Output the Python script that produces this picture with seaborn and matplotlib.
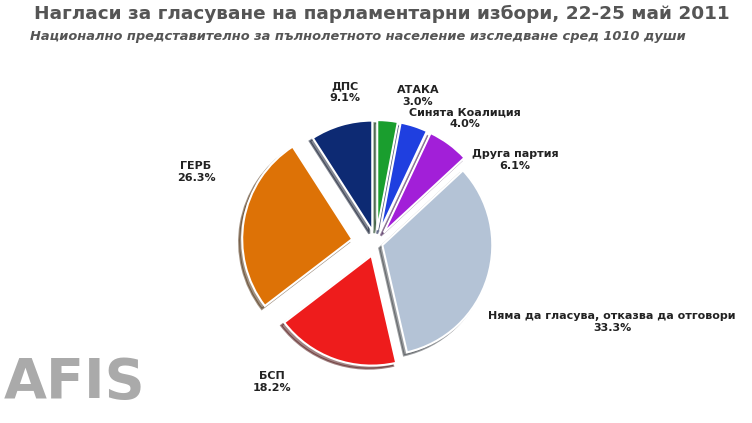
import matplotlib
matplotlib.use("Agg")
import matplotlib.pyplot as plt
import seaborn as sns

sns.set_theme(style="white")
plt.rcParams['font.family'] = ['DejaVu Sans']

parties = ["АТАКА", "Синята Коалиция", "Друга партия", "Няма да гласува, отказва да отговори", "БСП", "ГЕРБ", "ДПС"]
values = [3.0, 4.0, 6.1, 33.3, 18.2, 26.3, 9.1]
colors = ["#1a9e2e", "#1f3fe0", "#a21fd8", "#b4c3d6", "#ee1c1c", "#dd7206", "#0d2a73"]
explode = [0.12, 0.12, 0.12, 0.06, 0.12, 0.22, 0.12]

fig = plt.figure(figsize=(7.52, 4.23), dpi=100)
ax = fig.add_axes([0.2, 0.1, 0.6, 0.65])
wedges, texts = ax.pie(values, colors=colors, explode=explode, startangle=90, counterclock=False,
                       labels=[f"{p}\n{v:.1f}%" for p, v in zip(parties, values)],
                       labeldistance=1.2, shadow=True,
                       wedgeprops=dict(edgecolor="white", linewidth=1.5),
                       textprops=dict(fontsize=8, fontweight="bold", ha="center", color="#222222"))
# label centres in pixels of the 752x423 picture
pos = {0: (418, 96), 1: (465, 118), 2: (515, 160), 3: (612, 322), 4: (272, 382), 5: (196, 172), 6: (345, 92)}
for i, t in enumerate(texts):
    x, y = pos[i]
    t.set_transform(fig.transFigure)
    t.set_position((x / 752, 1 - y / 423))
    t.set_va("center")
ax.set_aspect("equal")

fig.text(0.045, 0.955, "Нагласи за гласуване на парламентарни избори, 22-25 май 2011",
         fontsize=13.3, fontweight="bold", color="#555555")
fig.text(0.04, 0.905, "Национално представително за пълнолетното население изследване сред 1010 души",
         fontsize=9.4, fontweight="bold", style="italic", color="#555555")
fig.text(0.005, 0.06, "AFIS", fontsize=40, fontweight="bold", color="#aaaaaa")
fig.savefig("out.png", dpi=100)
